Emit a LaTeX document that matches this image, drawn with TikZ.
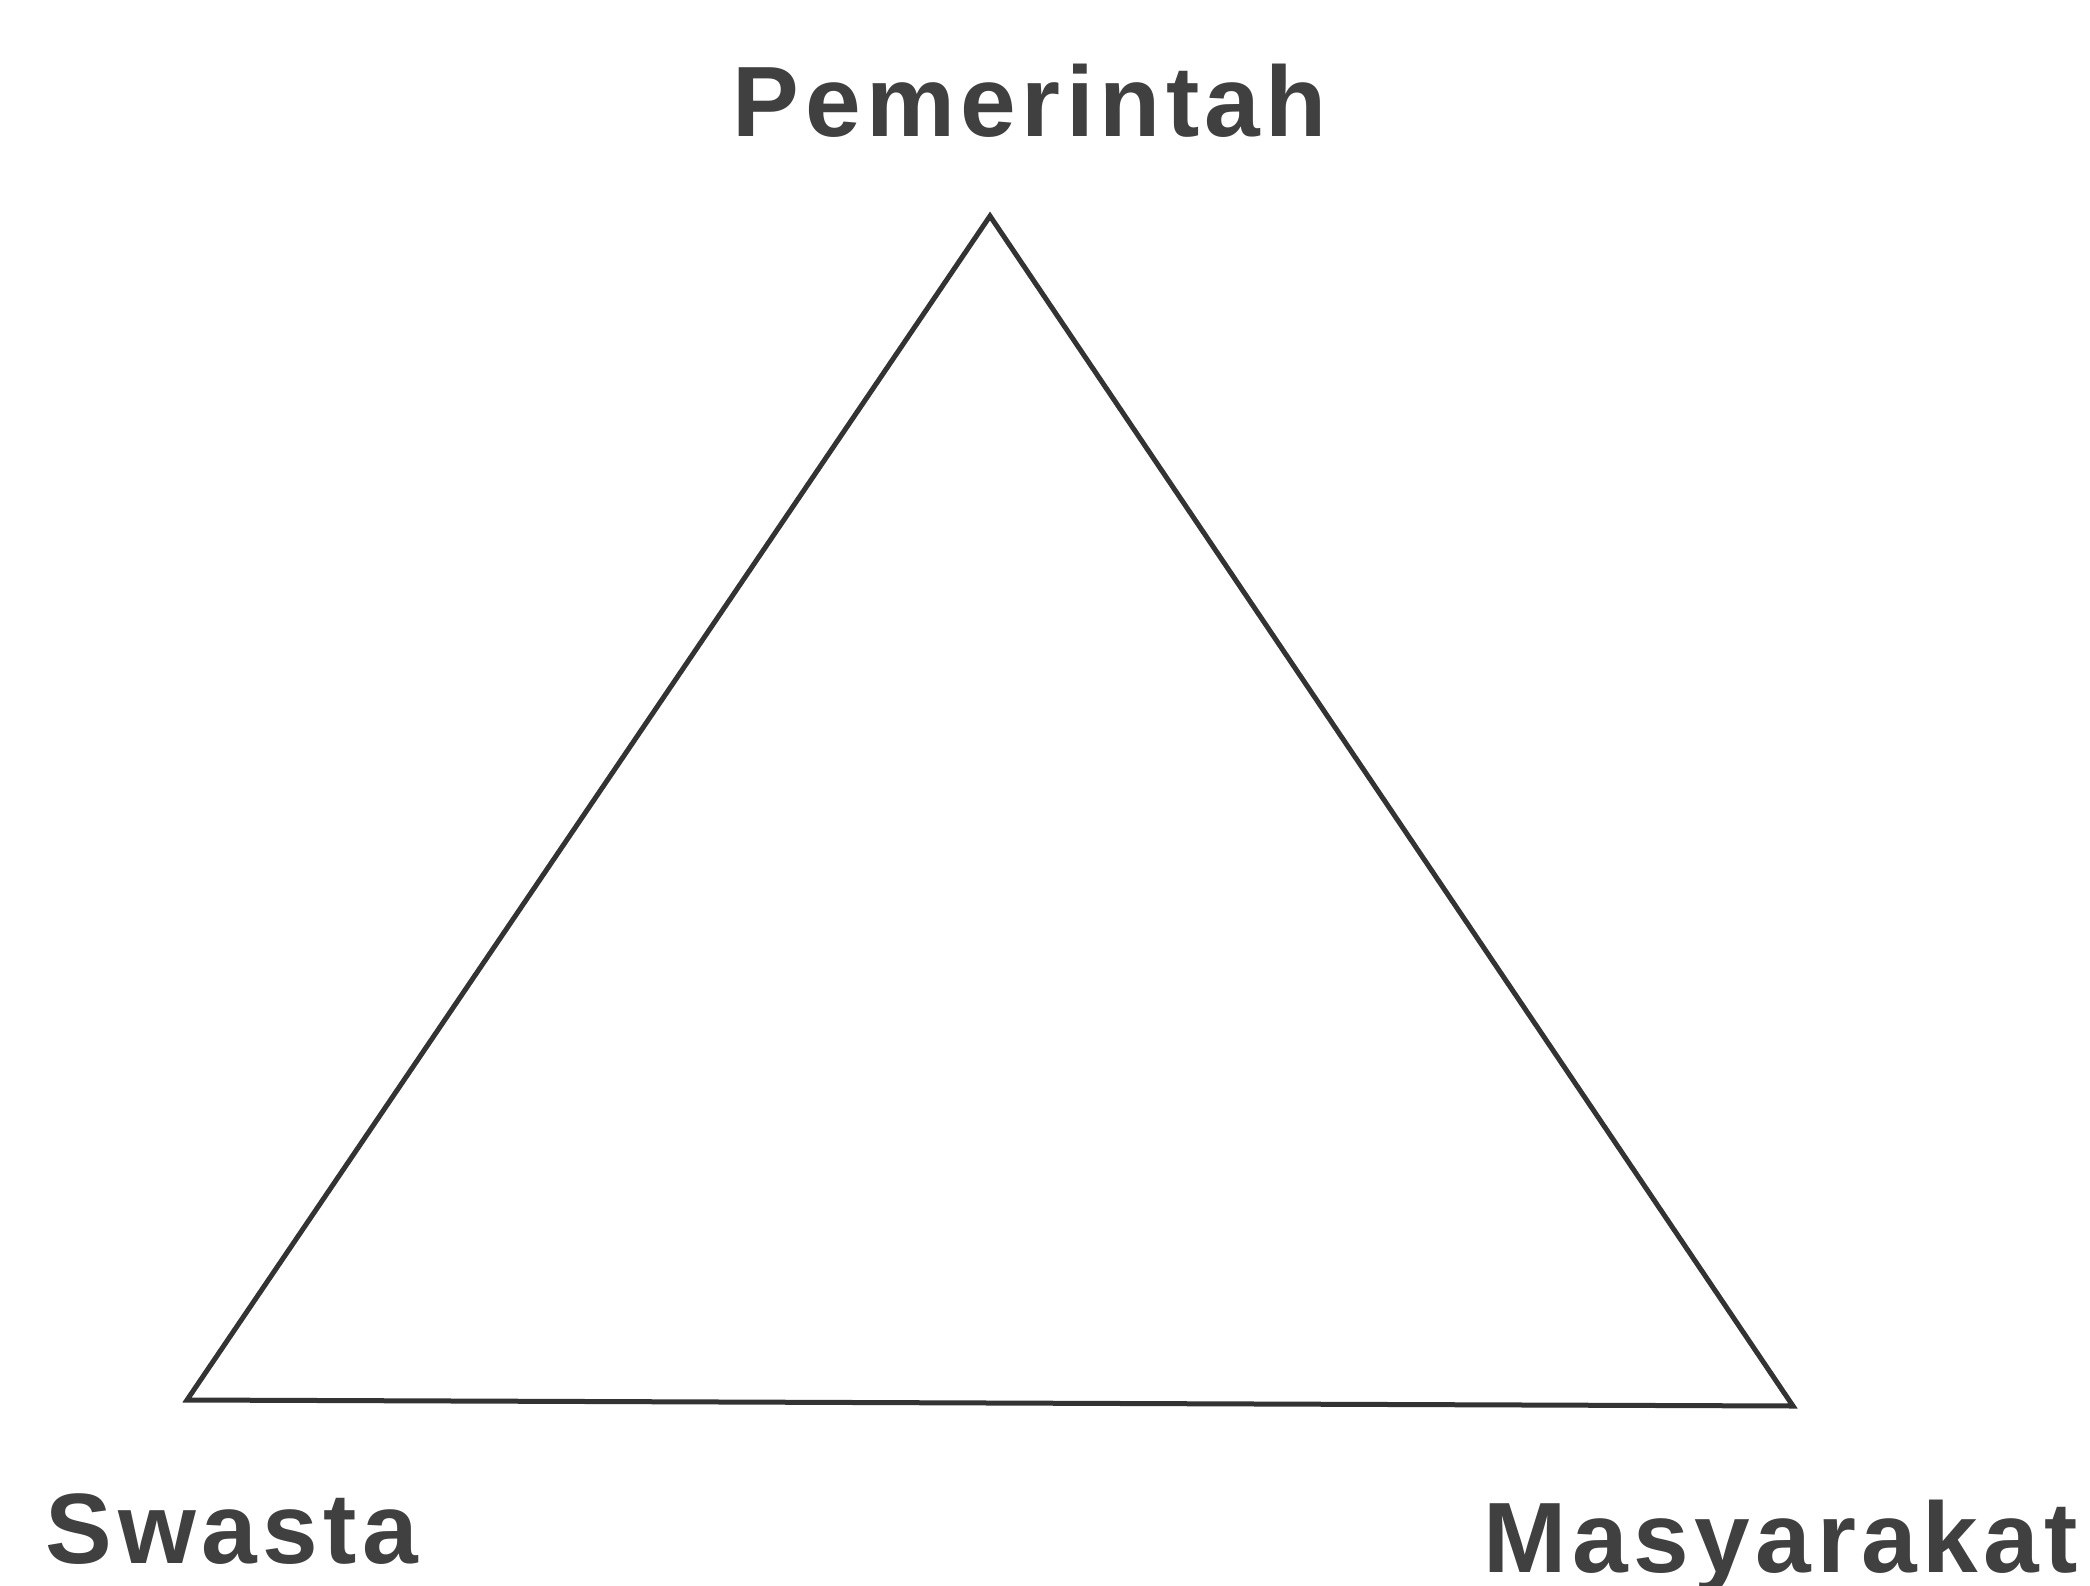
\documentclass[tikz,border=0pt]{standalone}
\usepackage{fontspec}
\setmainfont{Liberation Sans}[LetterSpace=5.5]
\begin{document}
\begin{tikzpicture}[x=1pt,y=-1pt,
  lbl/.style={font=\bfseries\fontsize{100}{110}\selectfont, text=black!75, inner sep=0pt, anchor=base},
  edge/.style={line width=5pt, draw=black!80, line join=miter}]
\useasboundingbox (0,0) rectangle (2090,1586);
\coordinate (A) at (990,216);
\coordinate (B) at (187,1400);
\coordinate (C) at (1793,1406);
\draw[edge] (A) -- (B) -- (C) -- cycle;
\node[lbl] (p) at (1030,137) {Pemerintah};
\node[lbl] (s) at (232,1563) {Swasta};
\node[lbl] (m) at (1781,1572) {Masyarakat};
\end{tikzpicture}
\end{document}
